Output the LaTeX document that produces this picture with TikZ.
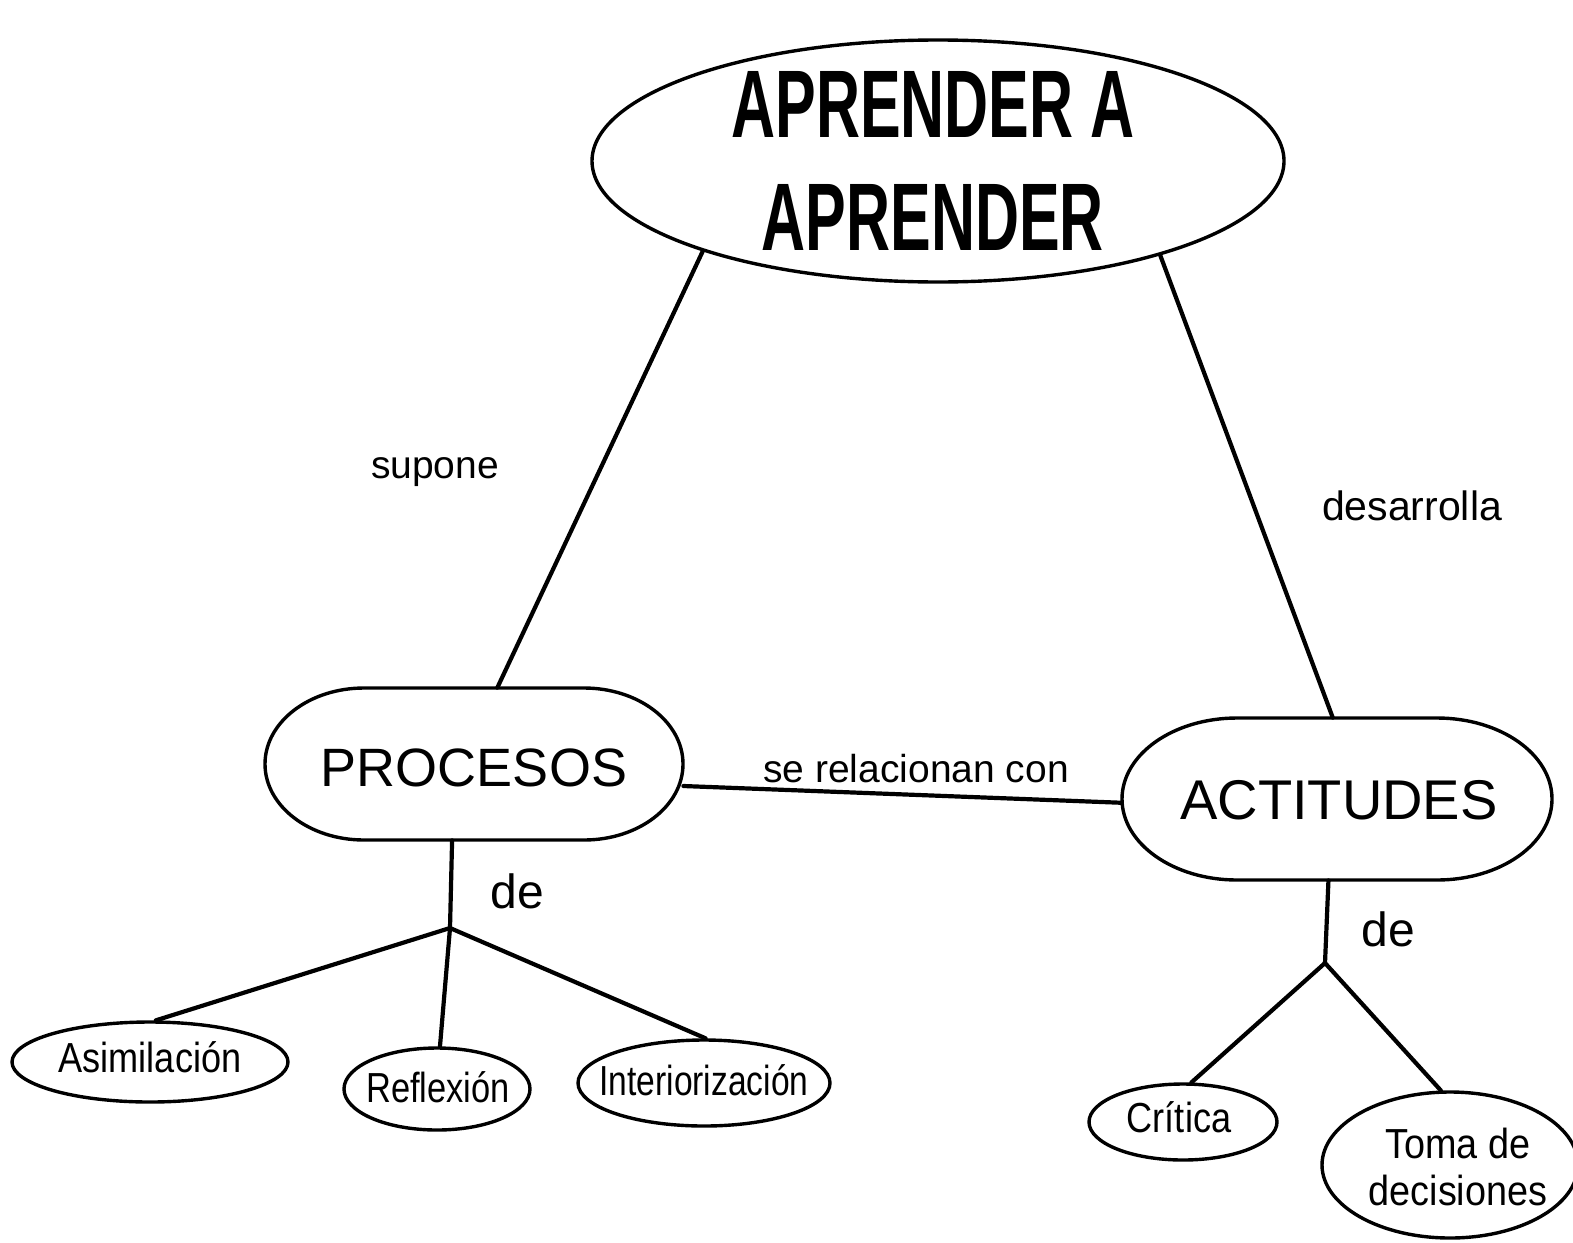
\documentclass[tikz,border=0pt]{standalone}
\usepackage{fontspec}
\setmainfont{Liberation Sans}
\usetikzlibrary{shapes.geometric}
\begin{document}
\begin{tikzpicture}[x=0.5pt,y=-0.5pt,
  shapeline/.style={draw=black,line width=1.7pt,inner sep=0pt},
  bigoval/.style={shapeline,ellipse},
  hidden/.style={rectangle,inner sep=0pt,draw=none},
  leaf/.style={shapeline,ellipse},
  conn/.style={line width=2.1pt,line cap=round},
  lbl/.style={inner sep=0pt,font=\fontsize{19.5}{23}\selectfont},
  leaftext/.style={inner sep=0pt,align=center,font=\fontsize{21}{23.5}\selectfont},
  bigtext/.style={inner sep=0pt,font=\fontsize{27}{30}\selectfont},
]
\useasboundingbox (0,0) rectangle (1573,1242);
% shapes
\node[bigoval,minimum width=346pt,minimum height=121pt] (apr) at (938,161) {};
\node[hidden,minimum width=209pt,minimum height=76pt] (pro) at (474,764) {};
\node[hidden,minimum width=215pt,minimum height=81pt] (act) at (1337,799) {};
% pill outlines (flat top/bottom with elliptic ends)
\draw[shapeline] (364,688) -- (584,688)
  arc[start angle=90,end angle=-90,x radius=49.5pt,y radius=38pt]
  -- (364,840)
  arc[start angle=270,end angle=90,x radius=49.5pt,y radius=38pt] -- cycle;
\draw[shapeline] (1237,718) -- (1437,718)
  arc[start angle=90,end angle=-90,x radius=57.5pt,y radius=40.5pt]
  -- (1237,880)
  arc[start angle=270,end angle=90,x radius=57.5pt,y radius=40.5pt] -- cycle;
\node[leaf,minimum width=138pt,minimum height=40pt] (asi) at (150,1062) {};
\node[leaf,minimum width=93pt,minimum height=41pt] (ref) at (437,1089) {};
\node[leaf,minimum width=126pt,minimum height=43pt] (int) at (704,1083) {};
\node[leaf,minimum width=94pt,minimum height=38pt] (cri) at (1183,1122) {};
\node[leaf,minimum width=128pt,minimum height=73pt] (tom) at (1450,1165) {};
\coordinate (j1) at (450,928);
\coordinate (j2) at (1325,963);
% texts
\node[inner sep=0pt,align=center,font=\bfseries\fontsize{48}{56.5}\selectfont] (tt) at (933,161)
  {\scalebox{0.635}[1]{APRENDER A}\\\scalebox{0.635}[1]{APRENDER}};
\node[bigtext] (tp) at (474,768) {PROCESOS};
\node[bigtext,font=\fontsize{28}{30}\selectfont] (ta) at (1339,800) {ACTITUDES};
\node[leaftext] (tasi) at (150,1057) {\scalebox{0.86}[1]{Asimilación}};
\node[leaftext] (tref) at (438,1087) {\scalebox{0.82}[1]{Reflexión}};
\node[leaftext] (tint) at (704,1080) {\scalebox{0.8}[1]{Interiorización}};
\node[leaftext] (tcri) at (1179,1117) {\scalebox{0.86}[1]{Crítica}};
\node[leaftext] (ttom) at (1458,1167) {\scalebox{0.9}[1]{Toma de}\\\scalebox{0.9}[1]{decisiones}};
\node[lbl] (lsup) at (435,472) {supone};
\node[lbl,font=\fontsize{20.5}{23}\selectfont] (ldes) at (1412,506) {desarrolla};
\node[lbl] (lrel) at (916,769) {se relacionan con};
\node[lbl,font=\fontsize{24}{26}\selectfont] (lde1) at (517,891) {de};
\node[lbl,font=\fontsize{24}{26}\selectfont] (lde2) at (1388,929) {de};
% connectors
\draw[conn] (apr.201) -- (pro.73);
\draw[conn] (apr.337.5) -- (act.93);
\draw[conn] (pro.354) -- (act.181);
\draw[conn] (pro.254) -- (j1);
\draw[conn] (j1) -- (asi.82);
\draw[conn] (j1) -- (ref.86);
\draw[conn] (j1) -- (int.88);
\draw[conn] (act.264) -- (j2);
\draw[conn] (j2) -- (cri.78);
\draw[conn] (j2) -- (tom.97);
\end{tikzpicture}
\end{document}
